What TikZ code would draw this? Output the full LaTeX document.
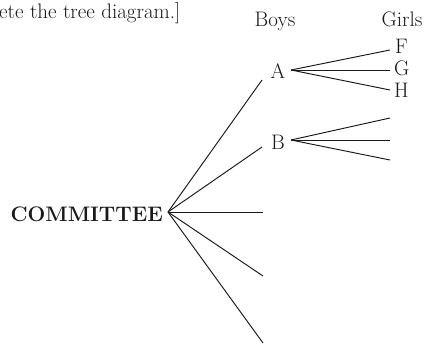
\documentclass[tikz,border=0pt]{standalone}
\begin{document}
\begin{tikzpicture}[x=1pt,y=-1pt,
  lbl/.style={inner sep=0pt,text=black!90,font=\fontsize{21}{25}\selectfont},
  edge/.style={line width=0.95pt,black!90}]
\useasboundingbox (0,0) rectangle (433,343);
% header
\node[lbl,anchor=base west] (hdr) at (-1,18) {ete the tree diagram.]};
\node[lbl,anchor=base] (boys) at (275,26) {Boys};
\node[lbl,anchor=base] (girls) at (402,26) {Girls};
% root
\node[inner sep=0pt,anchor=base east,text=black!90,font=\fontsize{21}{25}\selectfont\bfseries] (root) at (163,221) {COMMITTEE};
\coordinate (r) at (168,212);
% boys level
\node[lbl,anchor=base] (A) at (278,78) {A};
\node[lbl,anchor=base] (B) at (278,149) {B};
\coordinate (Ain) at (262,80);
\coordinate (Bin) at (262,147);
\coordinate (C3) at (263,212);
\coordinate (C4) at (263,276);
\coordinate (C5) at (263,343);
\coordinate (Aout) at (291,70);
\coordinate (Bout) at (291,140);
% girls level
\coordinate (Af) at (390,50);
\coordinate (Ag) at (390,70);
\coordinate (Ah) at (390,90);
\coordinate (Bf) at (390,118);
\coordinate (Bg) at (390,140);
\coordinate (Bh) at (390,160);
\node[lbl,anchor=base west] (F) at (395,53) {F};
\node[lbl,anchor=base west] (G) at (394,75) {G};
\node[lbl,anchor=base west] (H) at (394,97) {H};
% edges
\foreach \t in {Ain,Bin,C3,C4,C5} \draw[edge] (r) -- (\t);
\foreach \t in {Af,Ag,Ah} \draw[edge] (Aout) -- (\t);
\foreach \t in {Bf,Bg,Bh} \draw[edge] (Bout) -- (\t);
\end{tikzpicture}
\end{document}
